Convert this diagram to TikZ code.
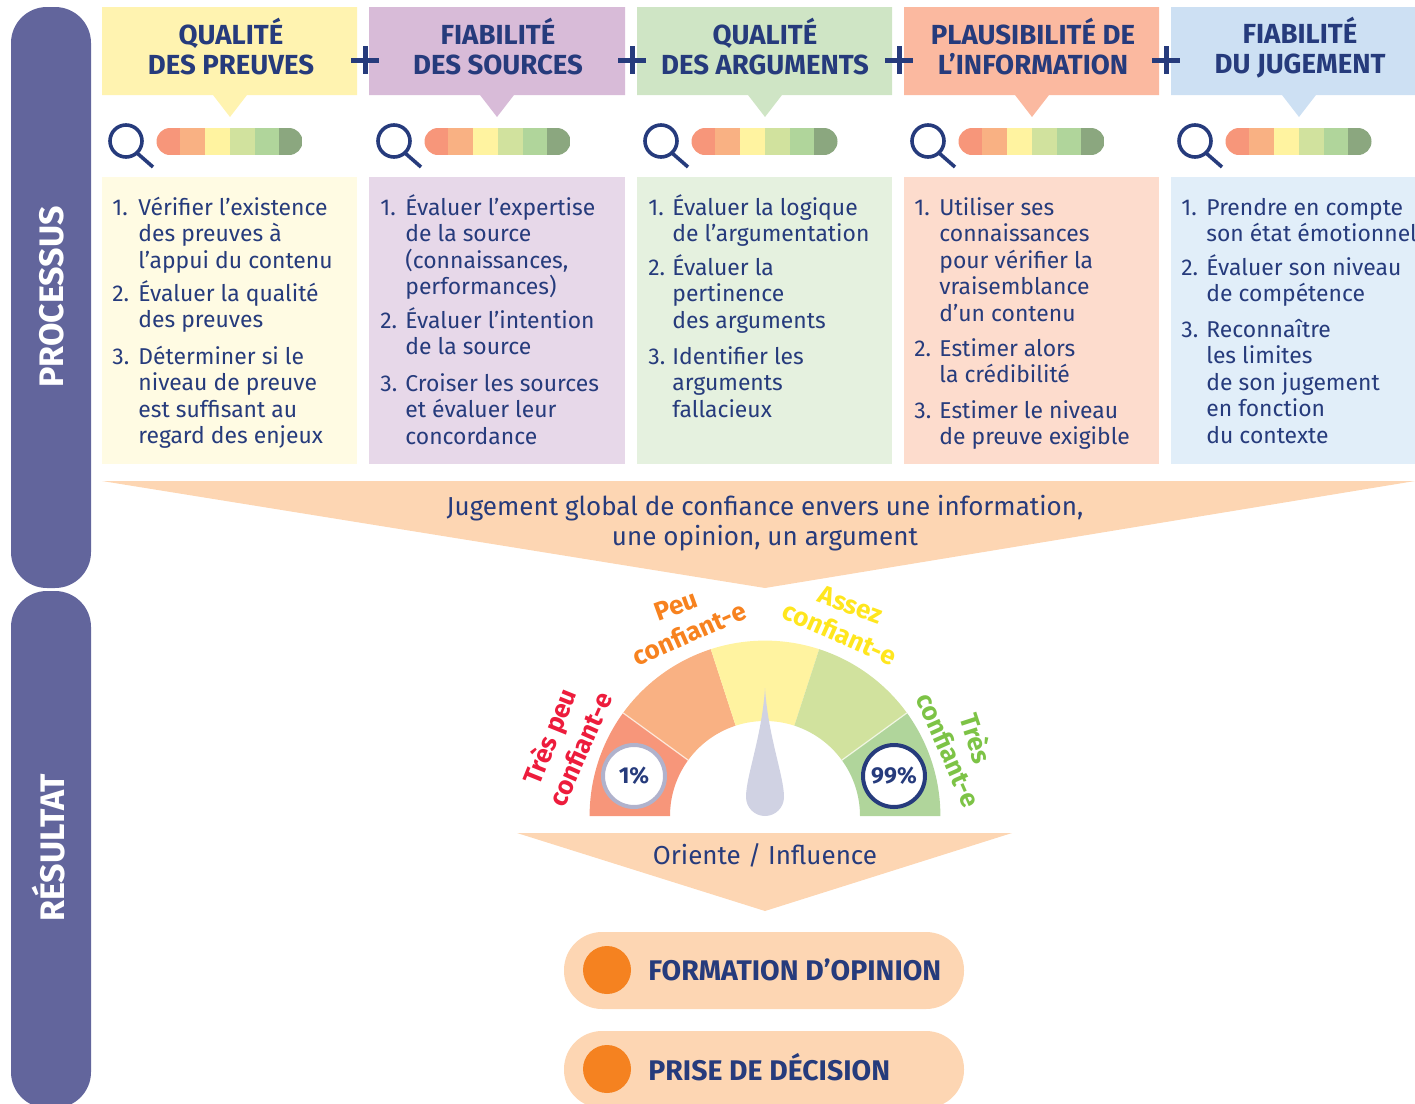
\documentclass[tikz,border=0pt]{standalone}
\usepackage{fontspec}
\setmainfont{Fira Sans}
\definecolor{navy}{HTML}{263B7C}
\definecolor{barc}{HTML}{62659C}
\definecolor{arrowc}{HTML}{FDD6B3}
\definecolor{dotc}{HTML}{F58220}
\definecolor{needlec}{HTML}{D0D2E3}
\definecolor{ringc}{HTML}{B0B2CC}
\definecolor{gred}{HTML}{ED1C3C}
\definecolor{gorange}{HTML}{F7821F}
\definecolor{gyellow}{HTML}{FFE61E}
\definecolor{ggreen}{HTML}{7DC346}
\definecolor{hA}{HTML}{FFF3B0}\definecolor{bA}{HTML}{FFFBE3}
\definecolor{hB}{HTML}{D8BBD8}\definecolor{bB}{HTML}{E7D8E9}
\definecolor{hC}{HTML}{CFE5C5}\definecolor{bC}{HTML}{E5F1DF}
\definecolor{hD}{HTML}{FBB9A0}\definecolor{bD}{HTML}{FDDCCD}
\definecolor{hE}{HTML}{CDE0F3}\definecolor{bE}{HTML}{E1EEF9}
\definecolor{sA}{HTML}{F7967A}\definecolor{sB}{HTML}{F9B183}
\definecolor{sC}{HTML}{FFF3A0}\definecolor{sD}{HTML}{D1E29E}
\definecolor{sE}{HTML}{B0D59B}\definecolor{sF}{HTML}{8BA77F}
\newcommand\fl{\rule{0pt}{12pt}}
\tikzset{
 headtxt/.style={text=navy,align=center,font=\fontsize{13.8}{15}\selectfont\bfseries,inner sep=0pt},
 numtxt/.style={text=navy,anchor=north west,inner sep=0pt,yshift=1.5pt,font=\fontsize{11.45}{13.25}\selectfont},
 itemtxt/.style={text=navy,anchor=north west,inner sep=0pt,yshift=1.5pt,align=left,font=\fontsize{11.45}{13.25}\selectfont},
 plusmark/.style={draw=navy,line width=2.5pt},
 sidetxt/.style={text=white,font=\fontsize{17}{19}\selectfont\bfseries,rotate=90,inner sep=0pt},
 midtxt/.style={text=navy,align=center,inner sep=0pt,font=\fontsize{13}{15}\selectfont},
 pilltxt/.style={text=navy,anchor=west,inner sep=0pt,font=\fontsize{14.2}{16}\selectfont\bfseries},
 gaugetxt/.style={inner sep=0pt,font=\fontsize{13}{14}\selectfont\bfseries},
 pct/.style={circle,fill=white,text=navy,inner sep=0pt,minimum size=31pt,line width=2pt,font=\fontsize{11.5}{13}\selectfont\bfseries},
}
\newcommand\lensbar[1]{%
 \begin{scope}[shift={(#1,0)}]
  \draw[navy,line width=1.8pt] (126,141) circle[radius=8pt];
  \draw[navy,line width=1.8pt] (137,153) -- (153,167);
  \begin{scope}
   \clip (170,128) arc[start angle=90,end angle=270,radius=6.75pt] -- (289,155) arc[start angle=-90,end angle=90,radius=6.75pt] -- cycle;
   \fill[sA] (156,128) rectangle (180,155);
   \fill[sB] (180,128) rectangle (205,155);
   \fill[sC] (205,128) rectangle (230,155);
   \fill[sD] (230,128) rectangle (255,155);
   \fill[sE] (255,128) rectangle (279,155);
   \fill[sF] (279,128) rectangle (303,155);
  \end{scope}
 \end{scope}}
\newcommand\sector[3]{\fill[#1] (#2:87.7pt) arc[start angle=#2,end angle=#3,radius=87.7pt] -- (#3:47.5pt) arc[start angle=#3,end angle=#2,radius=47.5pt] -- cycle;}
\begin{document}
\begin{tikzpicture}[x=0.5pt,y=-0.5pt]
\useasboundingbox (0,0) rectangle (1415,1104);
\clip (0,0) rectangle (1415,1104);
% side bars
\fill[barc,rounded corners=18pt] (11,7) rectangle (91,588);
\fill[barc,rounded corners=18pt] (11,591) rectangle (91,1108);
\node[sidetxt] (processus) at (52,297) {PROCESSUS};
\node[sidetxt] (resultat) at (49,848) {RÉSULTAT};
% headers
\fill[hA] (102,7) rectangle (357,95) (213,95) -- (247,95) -- (230,117) -- cycle;
\fill[hB] (369,7) rectangle (625,95) (480,95) -- (514,95) -- (497,117) -- cycle;
\fill[hC] (637,7) rectangle (892,95) (748,95) -- (782,95) -- (765,117) -- cycle;
\fill[hD] (904,7) rectangle (1159,95) (1015,95) -- (1049,95) -- (1032,117) -- cycle;
\fill[hE] (1171,7) rectangle (1415,95) (1282,95) -- (1316,95) -- (1299,117) -- cycle;
\node[headtxt] (h1) at (231,46.5) {QUALITÉ\\DES PREUVES};
\node[headtxt] (h2) at (498,46.5) {FIABILITÉ\\DES SOURCES};
\node[headtxt] (h3) at (765,46.5) {QUALITÉ\\DES ARGUMENTS};
\node[headtxt] (h4) at (1033,46.5) {PLAUSIBILITÉ DE\\L’INFORMATION};
\node[headtxt] (h5) at (1300,48) {FIABILITÉ\\DU JUGEMENT};
% plus signs
\draw[plusmark] (351,60) -- (379,60) (365,46) -- (365,74);
\draw[plusmark] (618,60) -- (646,60) (632,46) -- (632,74);
\draw[plusmark] (885,60) -- (913,60) (899,46) -- (899,74);
\draw[plusmark] (1152,60) -- (1180,60) (1166,46) -- (1166,74);
% lens + bars
\lensbar{0}\lensbar{268}\lensbar{535}\lensbar{802}\lensbar{1069}
% bodies
\fill[bA] (102,177) rectangle (357,464);
\fill[bB] (369,177) rectangle (625,464);
\fill[bC] (637,177) rectangle (892,464);
\fill[bD] (904,177) rectangle (1159,464);
\fill[bE] (1171,177) rectangle (1415,464);
% column 1
\node[numtxt] (a1n) at (112,194) {\fl 1.};
\node[itemtxt] (a1) at (138,194) {\fl Vérifier l’existence\\des preuves à\\l’appui du contenu};
\node[numtxt] (a2n) at (112,280) {\fl 2.};
\node[itemtxt] (a2) at (138,280) {\fl Évaluer la qualité\\des preuves};
\node[numtxt] (a3n) at (112,343) {\fl 3.};
\node[itemtxt] (a3) at (138,343) {\fl Déterminer si le\\niveau de preuve\\est suffisant au\\regard des enjeux};
% column 2
\node[numtxt] (b1n) at (380,194) {\fl 1.};
\node[itemtxt] (b1) at (405,194) {\fl Évaluer l’expertise\\de la source\\(connaissances,\\performances)};
\node[numtxt] (b2n) at (380,307) {\fl 2.};
\node[itemtxt] (b2) at (405,307) {\fl Évaluer l’intention\\de la source};
\node[numtxt] (b3n) at (380,370) {\fl 3.};
\node[itemtxt] (b3) at (405,370) {\fl Croiser les sources\\et évaluer leur\\concordance};
% column 3
\node[numtxt] (c1n) at (648,194) {\fl 1.};
\node[itemtxt] (c1) at (672,194) {\fl Évaluer la logique\\de l’argumentation};
\node[numtxt] (c2n) at (648,254) {\fl 2.};
\node[itemtxt] (c2) at (672,254) {\fl Évaluer la\\pertinence\\des arguments};
\node[numtxt] (c3n) at (648,343) {\fl 3.};
\node[itemtxt] (c3) at (672,343) {\fl Identifier les\\arguments\\fallacieux};
% column 4
\node[numtxt] (d1n) at (914,194) {\fl 1.};
\node[itemtxt] (d1) at (939,194) {\fl Utiliser ses\\connaissances\\pour vérifier la\\vraisemblance\\d’un contenu};
\node[numtxt] (d2n) at (914,335) {\fl 2.};
\node[itemtxt] (d2) at (939,335) {\fl Estimer alors\\la crédibilité};
\node[numtxt] (d3n) at (914,397) {\fl 3.};
\node[itemtxt] (d3) at (939,397) {\fl Estimer le niveau\\de preuve exigible};
% column 5
\node[numtxt] (e1n) at (1181,194) {\fl 1.};
\node[itemtxt] (e1) at (1206,194) {\fl Prendre en compte\\son état émotionnel};
\node[numtxt] (e2n) at (1181,254) {\fl 2.};
\node[itemtxt] (e2) at (1206,254) {\fl Évaluer son niveau\\de compétence};
\node[numtxt] (e3n) at (1181,316) {\fl 3.};
\node[itemtxt] (e3) at (1206,316) {\fl Reconnaître\\les limites\\de son jugement\\en fonction\\du contexte};
% big arrow
\fill[arrowc] (102,481) -- (1415,481) -- (765,588) -- cycle;
\node[midtxt] (jug) at (765,523) {Jugement global de confiance envers une information,\\une opinion, un argument};
% gauge
\begin{scope}[shift={(765,816)}]
 \sector{sA}{180}{144}
 \sector{sB}{144}{108}
 \sector{sC}{108}{72}
 \sector{sD}{72}{36}
 \sector{sE}{36}{0}
 \draw[white!70!sB,line width=.6pt] (144:47.5pt) -- (144:87.7pt);
 \draw[white!70!sD,line width=.6pt] (36:47.5pt) -- (36:87.7pt);
 \fill[needlec] (0,-128) .. controls (-3,-80) and (-19,-40) .. (-19,-19) arc[start angle=180,end angle=360,radius=9.5pt] .. controls (19,-40) and (3,-80) .. (0,-128) -- cycle;
\end{scope}
\node[pct,draw=ringc] (p1) at (634,776) {1\%};
\node[pct,draw=navy] (p99) at (894,776) {99\%};
\node[gaugetxt,text=gred,rotate=68] (g1a) at (551,737) {Très peu};
\node[gaugetxt,text=gred,rotate=66] (g1b) at (580,749) {confiant-e};
\node[gaugetxt,text=gorange,rotate=20] (g2a) at (676,606) {Peu};
\node[gaugetxt,text=gorange,rotate=24] (g2b) at (689,633) {confiant-e};
\node[gaugetxt,text=gyellow,rotate=-20] (g3a) at (851,605) {Assez};
\node[gaugetxt,text=gyellow,rotate=-24] (g3b) at (840,633) {confiant-e};
\node[gaugetxt,text=ggreen,rotate=-72] (g4a) at (977,738) {Très};
\node[gaugetxt,text=ggreen,rotate=-66] (g4b) at (949,750) {confiant-e};
% small arrow
\fill[arrowc] (517,833) -- (1012,833) -- (765,911) -- cycle;
\node[midtxt] (ori) at (765,855) {Oriente / Influence};
% pills
\fill[arrowc,rounded corners=19pt] (564,932) rectangle (964,1009);
\fill[arrowc,rounded corners=19pt] (564,1031) rectangle (964,1108);
\fill[dotc] (607,970) circle[radius=12pt];
\fill[dotc] (607,1069) circle[radius=12pt];
\node[pilltxt] (form) at (648,970) {FORMATION D’OPINION};
\node[pilltxt] (dec) at (648,1067) {PRISE DE DÉCISION};
\end{tikzpicture}
\end{document}
